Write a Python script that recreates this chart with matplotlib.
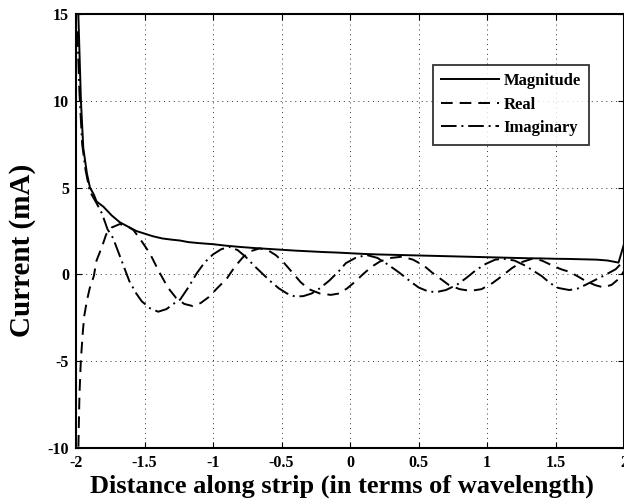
import matplotlib
matplotlib.use("Agg")
import matplotlib.pyplot as plt

# ---- data ----
mag_x = [-1.99, -1.983, -1.964, -1.947, -1.92, -1.898, -1.87, -1.85, -1.80, -1.74, -1.68, -1.62,
         -1.56, -1.50, -1.44, -1.37, -1.30, -1.24, -1.18, -1.10, -1.00, -0.90, -0.80, -0.70,
         -0.60, -0.50, -0.40, -0.30, -0.20, -0.10, 0.0, 0.10, 0.20, 0.30, 0.40, 0.50, 0.60,
         0.70, 0.80, 0.90, 1.0, 1.1, 1.2, 1.3, 1.4, 1.5, 1.6, 1.7, 1.8, 1.88, 1.96, 2.0]
mag_y = [16.5, 15.0, 10.0, 7.3, 5.8, 5.0, 4.6, 4.2, 3.9, 3.4, 3.0, 2.75,
         2.5, 2.35, 2.2, 2.07, 2.0, 1.95, 1.86, 1.8, 1.74, 1.65, 1.58, 1.52,
         1.47, 1.42, 1.37, 1.33, 1.29, 1.26, 1.22, 1.18, 1.15, 1.13, 1.11, 1.09, 1.07,
         1.05, 1.03, 1.01, 0.99, 0.97, 0.95, 0.93, 0.92, 0.90, 0.89, 0.87, 0.85, 0.80, 0.68, 1.75]

re_x = [-1.985, -1.975, -1.965, -1.95, -1.94, -1.92, -1.90, -1.87, -1.85, -1.81, -1.78, -1.74,
        -1.68, -1.62, -1.58, -1.52, -1.46, -1.40, -1.33, -1.27, -1.21, -1.15, -1.09, -1.03,
        -0.97, -0.90, -0.84, -0.78, -0.72, -0.66, -0.60, -0.54, -0.48, -0.42, -0.36, -0.30,
        -0.22, -0.14, -0.08, -0.02, 0.04, 0.10, 0.16, 0.22, 0.30, 0.38, 0.46, 0.54, 0.60,
        0.66, 0.72, 0.80, 0.88, 0.96, 1.04, 1.10, 1.18, 1.25, 1.33, 1.40, 1.48, 1.54, 1.60,
        1.66, 1.72, 1.79, 1.85, 1.91, 1.97, 2.0]
re_y = [-11.0, -7.0, -5.0, -3.3, -2.4, -1.5, -0.8, -0.1, 0.8, 1.6, 2.3, 2.7,
        2.9, 2.75, 2.55, 1.9, 1.2, 0.25, -0.75, -1.35, -1.7, -1.82, -1.65, -1.3,
        -0.8, -0.25, 0.45, 1.0, 1.35, 1.5, 1.4, 1.1, 0.65, 0.1, -0.45, -0.85,
        -1.1, -1.18, -1.1, -0.8, -0.4, 0.05, 0.45, 0.75, 0.95, 1.02, 0.85, 0.5, 0.1,
        -0.25, -0.6, -0.85, -0.95, -0.85, -0.5, -0.15, 0.35, 0.7, 0.9, 0.8, 0.5, 0.3, 0.15,
        -0.1, -0.38, -0.62, -0.75, -0.6, -0.2, 0.2]

im_x = [-1.99, -1.975, -1.955, -1.93, -1.90, -1.85, -1.81, -1.77, -1.73, -1.67, -1.61, -1.56,
        -1.52, -1.46, -1.40, -1.34, -1.28, -1.24, -1.18, -1.12, -1.06, -1.00, -0.94, -0.88,
        -0.82, -0.76, -0.70, -0.64, -0.58, -0.52, -0.46, -0.40, -0.34, -0.28, -0.22, -0.15,
        -0.08, -0.03, 0.04, 0.12, 0.20, 0.28, 0.36, 0.44, 0.50, 0.57, 0.63, 0.70, 0.78, 0.85,
        0.92, 0.99, 1.06, 1.12, 1.20, 1.28, 1.36, 1.40, 1.46, 1.52, 1.60, 1.66, 1.72, 1.80,
        1.87, 1.94, 2.0]
im_y = [14.0, 10.5, 7.5, 6.0, 4.8, 4.1, 3.5, 2.6, 2.1, 0.85, -0.4, -1.1,
        -1.55, -1.95, -2.15, -2.0, -1.65, -1.45, -0.75, 0.05, 0.7, 1.15, 1.45, 1.58,
        1.4, 1.0, 0.5, 0.05, -0.4, -0.8, -1.1, -1.28, -1.25, -1.1, -0.8, -0.35,
        0.2, 0.65, 0.95, 1.12, 0.95, 0.55, 0.1, -0.4, -0.75, -0.98, -1.02, -0.9, -0.6, -0.2,
        0.25, 0.6, 0.85, 0.9, 0.8, 0.5, 0.1, -0.1, -0.5, -0.78, -0.9, -0.82, -0.6, -0.28,
        0.0, 0.3, 0.8]

x_ticks = [-2, -1.5, -1, -0.5, 0, 0.5, 1, 1.5, 2]
x_tick_labels = ["-2", "-1.5", "-1", "-0.5", "0", "0.5", "1", "1.5", "2"]
y_ticks = [-10, -5, 0, 5, 10, 15]
y_tick_labels = ["-10", "-5", "0", "5", "10", "15"]
series_names = ["Magnitude", "Real", "Imaginary"]

plt.rcParams['font.family'] = ['Liberation Serif', 'DejaVu Serif']
plt.rcParams['font.weight'] = 'bold'
plt.rcParams['axes.unicode_minus'] = False

fig = plt.figure(figsize=(6.24, 5.04), dpi=100)
ax = fig.add_axes([76/624, 56/504, 548/624, 434/504])

ax.plot(mag_x, mag_y, color='k', lw=1.4, ls='-', label=series_names[0])
ax.plot(re_x, re_y, color='k', lw=1.4, ls=(0, (6, 3.6)), label=series_names[1])
ax.plot(im_x, im_y, color='k', lw=1.4, ls=(0, (8, 2.5, 1, 2.5)), label=series_names[2])

ax.set_xlim(-2, 2)
ax.set_ylim(-10, 15)
ax.set_xticks(x_ticks)
ax.set_xticklabels(x_tick_labels, fontsize=11.5, fontweight='bold')
ax.set_yticks(y_ticks)
ax.set_yticklabels(y_tick_labels, fontsize=11.5, fontweight='bold')
ax.tick_params(direction='in', top=True, right=True, length=4, width=0.8, pad=5)
ax.grid(True, color='0.2', linestyle=(0, (1, 4)), lw=0.7)
for s in ax.spines.values():
    s.set_linewidth(1.5)

ax.set_xlabel("Distance along strip (in terms of wavelength)", fontsize=19,
              fontweight='bold')
ax.set_ylabel("Current (mA)", fontsize=21, fontweight='bold')
ax.xaxis.set_label_coords(0.485, -0.062)
ax.yaxis.set_label_coords(-0.073, 0.456)

leg = ax.legend(loc='upper right', bbox_to_anchor=(0.936, 0.8825), fontsize=12,
                handlelength=3.5, frameon=True, fancybox=False, edgecolor='k',
                borderpad=0.5, labelspacing=0.45, handletextpad=0.25, borderaxespad=0)
leg.get_frame().set_linewidth(1.3)
for t in leg.get_texts():
    t.set_fontweight('bold')

fig.savefig("out.png", dpi=100)
